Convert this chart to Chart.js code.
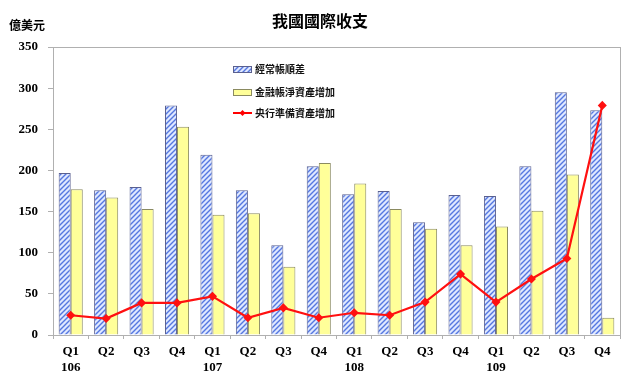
<!DOCTYPE html>
<html>
<head>
<meta charset="utf-8">
<script src="https://cdn.jsdelivr.net/npm/chart.js@4.4.0/dist/chart.umd.min.js"></script>
<style>
  html, body { margin: 0; padding: 0; background: #fff; }
  #wrap { width: 640px; height: 389px; position: relative; }
</style>
</head>
<body>
<div id="wrap"><canvas id="bopChart" width="640" height="389"></canvas></div>
<script>
const quarters = [['Q1','106'],['Q2',''],['Q3',''],['Q4',''],['Q1','107'],['Q2',''],['Q3',''],['Q4',''],
                  ['Q1','108'],['Q2',''],['Q3',''],['Q4',''],['Q1','109'],['Q2',''],['Q3',''],['Q4','']];
const currentAccount = [197, 176, 180, 279, 219, 176, 109, 205, 171, 175, 137, 170, 169, 205, 295, 273];
const financialAssets = [177, 167, 153, 253, 146, 148, 83, 209, 184, 153, 129, 109, 132, 151, 195, 21];
const reserveAssets = [24, 20, 39, 39, 47, 21, 33, 21, 27, 24, 40, 74, 40, 68, 93, 279];
const seriesNames = ['經常帳順差', '金融帳淨資產增加', '央行準備資產增加'];
const yTicks = [0, 50, 100, 150, 200, 250, 300, 350];

const SERIF = '"Liberation Serif", "DejaVu Serif", serif';
const CJK = '"Noto Sans CJK TC", "Noto Sans CJK SC", sans-serif';

function hatch() {
  const c = document.createElement('canvas');
  c.width = 5; c.height = 5;
  const g = c.getContext('2d');
  g.fillStyle = '#dfe8ff';
  g.fillRect(0, 0, 5, 5);
  g.strokeStyle = '#5577e0';
  g.lineWidth = 1.4;
  g.beginPath();
  g.moveTo(-1, 6); g.lineTo(6, -1);
  g.moveTo(-4, 4); g.lineTo(4, -4);
  g.moveTo(1, 9); g.lineTo(9, 1);
  g.stroke();
  return g.createPattern(c, 'repeat');
}

const blueHatch = hatch();

// title, unit, plot frame and the little legend inside the plot
const decor = {
  id: 'decor',
  afterDraw(chart) {
    const ctx = chart.ctx, a = chart.chartArea;
    ctx.save();
    ctx.strokeStyle = '#b0b0b0'; ctx.lineWidth = 1;
    ctx.strokeRect(a.left + 0.5, a.top + 0.5, a.right - a.left, a.bottom - a.top);

    ctx.fillStyle = '#000';
    ctx.textBaseline = 'middle';
    ctx.textAlign = 'center';
    ctx.font = 'bold 16px ' + CJK;
    ctx.fillText('我國國際收支', 320, 21);
    ctx.textAlign = 'left';
    ctx.font = 'bold 12px ' + CJK;
    ctx.fillText('億美元', 9, 25);

    const lx = 233, rows = [69, 92, 113];
    ctx.font = 'bold 10px ' + CJK;
    ctx.lineWidth = 1;
    ctx.fillStyle = blueHatch; ctx.fillRect(lx, rows[0] - 3, 18, 7);
    ctx.strokeStyle = '#5a6090'; ctx.strokeRect(lx + 0.5, rows[0] - 2.5, 18, 6);
    ctx.fillStyle = '#ffff99'; ctx.fillRect(lx, rows[1] - 3, 18, 7);
    ctx.strokeStyle = '#8a8a60'; ctx.strokeRect(lx + 0.5, rows[1] - 2.5, 18, 6);
    ctx.strokeStyle = '#ff0000'; ctx.lineWidth = 2;
    ctx.beginPath(); ctx.moveTo(lx, rows[2]); ctx.lineTo(lx + 19, rows[2]); ctx.stroke();
    ctx.fillStyle = '#ff0000';
    ctx.beginPath();
    ctx.moveTo(lx + 9.5, rows[2] - 3); ctx.lineTo(lx + 12.5, rows[2]);
    ctx.lineTo(lx + 9.5, rows[2] + 3); ctx.lineTo(lx + 6.5, rows[2]);
    ctx.closePath(); ctx.fill();
    ctx.fillStyle = '#111';
    seriesNames.forEach((n, i) => ctx.fillText(n, lx + 22, rows[i]));
    ctx.restore();
  }
};

new Chart(document.getElementById('bopChart').getContext('2d'), {
  type: 'bar',
  data: {
    labels: quarters,
    datasets: [
      { type: 'line', label: seriesNames[2], data: reserveAssets, borderColor: '#ff1010', backgroundColor: '#ff1010',
        borderWidth: 2.2, pointRadius: 3, pointStyle: 'rectRot', tension: 0, order: 0 },
      { label: seriesNames[0], data: currentAccount, backgroundColor: blueHatch, borderColor: '#5a6090',
        borderWidth: 1, order: 1 },
      { label: seriesNames[1], data: financialAssets, backgroundColor: '#ffff99', borderColor: '#8a8a60',
        borderWidth: 1, order: 2 }
    ]
  },
  options: {
    responsive: false, animation: false,
    layout: { padding: { top: 47, right: 20, left: 0, bottom: 0 } },
    datasets: { bar: { barPercentage: 1, categoryPercentage: 0.68 } },
    plugins: { legend: { display: false }, tooltip: { enabled: false }, title: { display: false } },
    scales: {
      x: {
        grid: { drawOnChartArea: false, tickLength: 4, color: '#b0b0b0' },
        border: { color: '#b0b0b0' },
        ticks: { color: '#000', font: { family: SERIF, size: 13, weight: 'bold' }, padding: 5, maxRotation: 0, autoSkip: false },
        afterFit: s => { s.height = 54; }
      },
      y: {
        min: 0, max: 350,
        grid: { drawOnChartArea: false, tickLength: 5, color: '#b0b0b0' },
        border: { color: '#b0b0b0' },
        afterBuildTicks: s => { s.ticks = yTicks.map(v => ({ value: v })); },
        ticks: { color: '#000', font: { family: SERIF, size: 13, weight: 'bold' }, padding: 10 },
        afterFit: s => { s.width = 53; }
      }
    }
  },
  plugins: [decor]
});
</script>
</body>
</html>
